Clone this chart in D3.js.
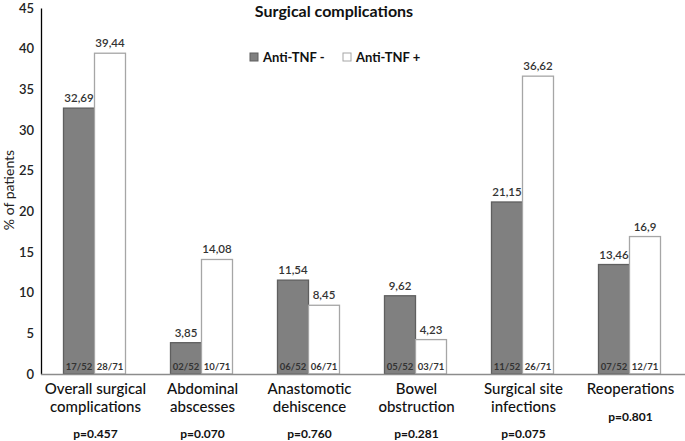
<!DOCTYPE html>
<html>
<head>
<meta charset="utf-8">
<script src="https://cdn.jsdelivr.net/npm/d3@7"></script>
<style>
  body { margin: 0; background: #fff; }
  svg text { font-family: Lato, "Open Sans", sans-serif; }
</style>
</head>
<body>
<svg id="chart" width="685" height="441"></svg>
<script>
// chart data
const categories = [
  ["Overall surgical", "complications"],
  ["Abdominal", "abscesses"],
  ["Anastomotic", "dehiscence"],
  ["Bowel", "obstruction"],
  ["Surgical site", "infections"],
  ["Reoperations"]
];
const series = ["Anti-TNF -", "Anti-TNF +"];
const valuesMinus = [32.69, 3.85, 11.54, 9.62, 21.15, 13.46];
const valuesPlus = [39.44, 14.08, 8.45, 4.23, 36.62, 16.9];
const countsMinus = ["17/52", "02/52", "06/52", "05/52", "11/52", "07/52"];
const countsPlus = ["28/71", "10/71", "06/71", "03/71", "26/71", "12/71"];
const pValues = ["p=0.457", "p=0.070", "p=0.760", "p=0.281", "p=0.075", "p=0.801"];
const yTicks = [0, 5, 10, 15, 20, 25, 30, 35, 40, 45];

const svg = d3.select("#chart");
const plotLeft = 41, plotRight = 683, plotTop = 8, plotBottom = 374;

const x0 = d3.scaleBand().domain(d3.range(categories.length)).range([plotLeft, plotRight]).paddingInner(0).paddingOuter(0);
const x1 = d3.scaleBand().domain(series).range([x0.bandwidth() / 2 - 31, x0.bandwidth() / 2 + 31]);
const y = d3.scaleLinear().domain([0, 45]).range([plotBottom, plotTop]);

const fills = { "Anti-TNF -": "#808080", "Anti-TNF +": "#ffffff" };
const strokes = { "Anti-TNF -": "#5f5f5f", "Anti-TNF +": "#a6a6a6" };

// y axis
const yAxis = svg.append("g").attr("transform", `translate(${plotLeft},0)`)
  .call(d3.axisLeft(y).tickValues(yTicks).tickSize(0).tickPadding(7));
yAxis.select(".domain").attr("stroke", "#000").attr("stroke-width", 1.3);
yAxis.selectAll("text").attr("font-size", 13).attr("font-weight", 600).attr("fill", "#222")
  .attr("font-family", "Lato, sans-serif");

svg.append("text")
  .attr("transform", "translate(14,190) rotate(-90)")
  .attr("text-anchor", "middle")
  .attr("font-size", 14).attr("fill", "#222")
  .text("% of patients");

// bars
const rows = categories.map((c, i) => ({
  i,
  bars: [
    { s: series[0], v: valuesMinus[i], n: countsMinus[i] },
    { s: series[1], v: valuesPlus[i], n: countsPlus[i] }
  ]
}));

const groups = svg.append("g").selectAll("g").data(rows).join("g")
  .attr("transform", d => `translate(${x0(d.i)},0)`);

groups.selectAll("rect").data(d => d.bars).join("rect")
  .attr("x", d => x1(d.s))
  .attr("y", d => y(d.v))
  .attr("width", x1.bandwidth())
  .attr("height", d => y(0) - y(d.v))
  .attr("fill", d => fills[d.s])
  .attr("stroke", d => strokes[d.s])
  .attr("stroke-width", 1.3);

groups.selectAll("text.val").data(d => d.bars).join("text")
  .attr("class", "val")
  .attr("x", d => x1(d.s) + x1.bandwidth() / 2)
  .attr("y", d => y(d.v) - 6)
  .attr("text-anchor", "middle")
  .attr("font-size", 11.5).attr("font-weight", 600).attr("fill", "#333")
  .text(d => String(d.v).replace(".", ","));

groups.selectAll("text.cnt").data(d => d.bars).join("text")
  .attr("class", "cnt")
  .attr("x", d => x1(d.s) + x1.bandwidth() / 2)
  .attr("y", y(0) - 4)
  .attr("text-anchor", "middle")
  .attr("font-size", 9.5).attr("font-weight", 700).attr("fill", "#333")
  .text(d => d.n);

// x axis line
svg.append("line")
  .attr("x1", plotLeft).attr("x2", 685)
  .attr("y1", plotBottom + 0.5).attr("y2", plotBottom + 0.5)
  .attr("stroke", "#8c8c8c").attr("stroke-width", 1.6);

// category labels
groups.each(function (d) {
  const g = d3.select(this);
  const cx = x0.bandwidth() / 2 + 1;
  const lines = categories[d.i];
  lines.forEach((t, k) => {
    g.append("text")
      .attr("x", cx).attr("y", 394 + k * 18)
      .attr("text-anchor", "middle")
      .attr("font-size", 15).attr("font-weight", 500).attr("fill", "#111")
      .text(t);
  });
  g.append("text")
    .attr("x", cx).attr("y", lines.length > 1 ? 438 : 421)
    .attr("text-anchor", "middle")
    .attr("font-size", 12).attr("font-weight", 700).attr("fill", "#111")
    .text(pValues[d.i]);
});

// title
svg.append("text")
  .attr("x", 334).attr("y", 17)
  .attr("text-anchor", "middle")
  .attr("font-size", 16).attr("font-weight", 700).attr("fill", "#111")
  .text("Surgical complications");

// legend
const legendX = [250, 343];
const legend = svg.append("g").selectAll("g").data(series).join("g")
  .attr("transform", (d, i) => `translate(${legendX[i]},53)`);
legend.append("rect")
  .attr("width", 8).attr("height", 8)
  .attr("fill", d => fills[d]).attr("stroke", d => strokes[d]).attr("stroke-width", 1);
legend.append("text")
  .attr("x", 13).attr("y", 9)
  .attr("font-size", 13).attr("font-weight", 700).attr("fill", "#111")
  .text(d => d);
</script>
</body>
</html>
